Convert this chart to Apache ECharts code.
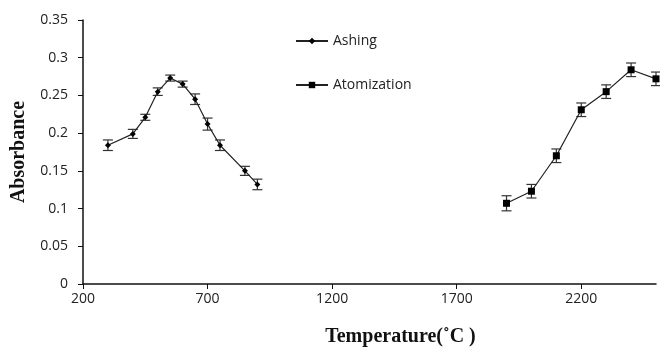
<!DOCTYPE html>
<html>
<head>
    <meta charset="utf-8">
    <title>Absorbance vs Temperature</title>
    <script src="https://cdn.jsdelivr.net/npm/echarts@6/dist/echarts.min.js"></script>
</head>
<body style="margin:0">
    <div id="main" style="width: 660px;height:350px;"></div>
    <script type="text/javascript">
        // Ashing curve
        let ashTemp = [300, 400, 450, 500, 550, 600, 650, 700, 750, 850, 900]
        let ashAbs = [0.184, 0.199, 0.221, 0.255, 0.273, 0.265, 0.245, 0.212, 0.184, 0.150, 0.132]
        let ashErr = [0.007, 0.006, 0.004, 0.005, 0.004, 0.004, 0.007, 0.008, 0.007, 0.006, 0.007]
        // Atomization curve
        let atoTemp = [1900, 2000, 2100, 2200, 2300, 2400, 2500]
        let atoAbs = [0.107, 0.123, 0.170, 0.231, 0.255, 0.284, 0.272]
        let atoErr = [0.010, 0.009, 0.009, 0.009, 0.009, 0.009, 0.009]

        function pairs(xs, ys) {
            return xs.map(function (x, i) { return [x, ys[i]] })
        }
        function errPairs(xs, ys, es) {
            return xs.map(function (x, i) { return [x, ys[i], es[i]] })
        }

        // 误差棒
        function renderErr(params, api) {
            let x = api.value(0), y = api.value(1), e = api.value(2)
            let top = api.coord([x, y + e])
            let bot = api.coord([x, y - e])
            let w = 5
            let st = { stroke: '#333', lineWidth: 1.2 }
            return {
                type: 'group',
                children: [
                    { type: 'line', shape: { x1: top[0], y1: top[1], x2: bot[0], y2: bot[1] }, style: st },
                    { type: 'line', shape: { x1: top[0] - w, y1: top[1], x2: top[0] + w, y2: top[1] }, style: st },
                    { type: 'line', shape: { x1: bot[0] - w, y1: bot[1], x2: bot[0] + w, y2: bot[1] }, style: st }
                ]
            }
        }

        let myChart = echarts.init(document.getElementById('main'))

        let labelFont = { fontFamily: 'Open Sans', fontSize: 14, color: '#222' }
        let nameFont = { fontFamily: 'Liberation Serif', fontSize: 20, fontWeight: 'bold', color: '#111' }

        let option = {
            animation: false,
            legend: {
                orient: 'vertical',
                left: 290,
                top: 29,
                itemGap: 30,
                itemWidth: 32,
                itemHeight: 8,
                data: ['Ashing', 'Atomization'],
                textStyle: { fontFamily: 'Open Sans', fontSize: 14, color: '#222' }
            },
            grid: {
                left: 83,
                right: 4,
                top: 20,
                bottom: 66,
                outerBoundsMode: 'none'
            },
            xAxis: {
                type: 'value',
                min: 200,
                max: 2500,
                interval: 500,
                name: 'Temperature(˚C )',
                nameLocation: 'middle',
                nameGap: 43,
                nameTextStyle: Object.assign({ padding: [0, 0, 0, 62] }, nameFont),
                splitLine: { show: false },
                axisLine: { lineStyle: { color: '#111', width: 1.5 } },
                axisTick: { length: 5, lineStyle: { color: '#111' } },
                axisLabel: Object.assign({
                    margin: 8,
                    showMaxLabel: false,
                    formatter: function (v) { return String(v) }
                }, labelFont)
            },
            yAxis: {
                type: 'value',
                min: 0,
                max: 0.35,
                interval: 0.05,
                name: 'Absorbance',
                nameLocation: 'middle',
                nameGap: 54,
                nameTextStyle: nameFont,
                splitLine: { show: false },
                axisLine: { show: true, lineStyle: { color: '#111', width: 1.5 } },
                axisTick: { show: true, length: 5, lineStyle: { color: '#111' } },
                axisLabel: Object.assign({ margin: 15 }, labelFont)
            },
            series: [
                {
                    name: 'Ashing',
                    type: 'line',
                    data: pairs(ashTemp, ashAbs),
                    symbol: 'diamond',
                    symbolSize: 6,
                    itemStyle: { color: '#000' },
                    lineStyle: { color: '#222', width: 1.2 },
                    z: 3
                },
                {
                    name: 'Atomization',
                    type: 'line',
                    data: pairs(atoTemp, atoAbs),
                    symbol: 'rect',
                    symbolSize: 7,
                    itemStyle: { color: '#000' },
                    lineStyle: { color: '#222', width: 1.2 },
                    z: 3
                },
                {
                    type: 'custom',
                    renderItem: renderErr,
                    data: errPairs(ashTemp, ashAbs, ashErr),
                    z: 2
                },
                {
                    type: 'custom',
                    renderItem: renderErr,
                    data: errPairs(atoTemp, atoAbs, atoErr),
                    z: 2
                }
            ]
        }

        myChart.setOption(option)
    </script>
</body>
</html>
